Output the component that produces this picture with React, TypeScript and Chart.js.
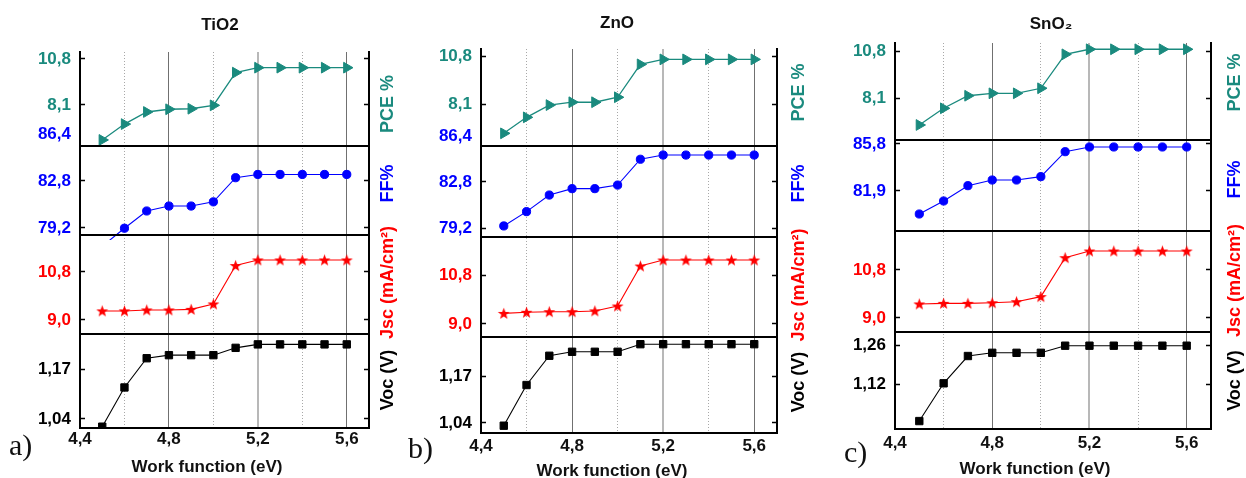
import React, { useEffect, useRef } from "react";
import { Chart, registerables } from "chart.js";

Chart.register(...registerables);

const FONT = '"Liberation Sans", Arial, "DejaVu Sans", sans-serif';
const W = 1246;
const H = 478;

// ---------- data ----------
const WORK_FUNCTION = [4.5, 4.6, 4.7, 4.8, 4.9, 5.0, 5.1, 5.2, 5.3, 5.4, 5.5, 5.6];
const X_TICKS = [4.4, 4.6, 4.8, 5.0, 5.2, 5.4, 5.6];
const X_LABELS = ["4,4", "", "4,8", "", "5,2", "", "5,6"];
const X_TITLE = "Work function (eV)";

// TiO2
const TIO2_PCE = [6.05, 6.98, 7.69, 7.85, 7.88, 8.08, 10.0, 10.29, 10.29, 10.29, 10.29, 10.29];
const TIO2_FF = [77.8, 79.18, 80.5, 80.88, 80.88, 81.2, 83.05, 83.3, 83.3, 83.3, 83.3, 83.3];
const TIO2_JSC = [9.34, 9.34, 9.375, 9.375, 9.4, 9.6, 11.04, 11.25, 11.25, 11.25, 11.25, 11.25];
const TIO2_VOC = [1.02, 1.122, 1.198, 1.206, 1.206, 1.206, 1.225, 1.234, 1.234, 1.234, 1.234, 1.234];

// ZnO
const ZNO_PCE = [6.45, 7.35, 8.04, 8.2, 8.2, 8.48, 10.33, 10.61, 10.61, 10.61, 10.61, 10.61];
const ZNO_FF = [79.36, 80.48, 81.78, 82.28, 82.28, 82.56, 84.58, 84.91, 84.91, 84.91, 84.91, 84.91];
const ZNO_JSC = [9.39, 9.43, 9.45, 9.45, 9.48, 9.66, 11.13, 11.35, 11.35, 11.35, 11.35, 11.35];
const ZNO_VOC = [1.0325, 1.145, 1.226, 1.237, 1.237, 1.237, 1.258, 1.258, 1.258, 1.258, 1.258, 1.258];

// SnO2
const SNO2_PCE = [6.55, 7.51, 8.23, 8.37, 8.37, 8.66, 10.61, 10.9, 10.9, 10.9, 10.9, 10.9];
const SNO2_FF = [79.99, 81.07, 82.34, 82.81, 82.81, 83.09, 85.16, 85.55, 85.55, 85.55, 85.55, 85.55];
const SNO2_JSC = [9.525, 9.55, 9.55, 9.57, 9.61, 9.8, 11.26, 11.51, 11.51, 11.51, 11.51, 11.51];
const SNO2_VOC = [0.987, 1.1225, 1.2205, 1.232, 1.232, 1.232, 1.2575, 1.2575, 1.2575, 1.2575, 1.2575, 1.2575];

// tick labels
const PCE_TICKS = [8.1, 10.8];
const FF_TICKS = [79.2, 82.8, 86.4];
const SNO2_FF_TICKS = [81.9, 85.8];
const JSC_TICKS = [9.0, 10.8];
const VOC_TICKS = [1.04, 1.17];
const SNO2_VOC_TICKS = [1.12, 1.26];

// ---------- styles ----------
const TEAL = "#1a8a7e";
const BLUE = "#0000ff";
const RED = "#ff0000";
const BLACK = "#000000";

const SERIES: any = {
  pce: { label: "PCE %", color: TEAL, style: "triangle", radius: 6.2, rotation: 90, decimals: 1, lw: 1.3 },
  ff: { label: "FF%", color: BLUE, style: "circle", radius: 4.1, rotation: 0, decimals: 1, lw: 1.1 },
  jsc: { label: "Jsc (mA/cm\u00B2)", color: RED, style: "star", radius: 5, rotation: 0, decimals: 1, lw: 1.1 },
  voc: { label: "Voc (V)", color: BLACK, style: "rect", radius: 5.2, rotation: 0, decimals: 2, lw: 1.1 },
};

const PANELS: any[] = [
  {
    title: "TiO2", tag: "a)", canvasLeft: 0, canvasWidth: 410, plotLeft: 80, plotRight: 369,
    top: 52, bottom: 428, titleX: 220, titleY: 25, xTitleX: 207, xTitleY: 467, xLabelPad: 1,
    sideX: 388, tagX: 9, tagY: 430,
    subs: [
      { key: "pce", data: TIO2_PCE, ticks: PCE_TICKS, range: [5.694, 11.21], h: 94, dy: 5 },
      { key: "ff", data: TIO2_FF, ticks: FF_TICKS, range: [78.66, 85.48], h: 89, dy: -7, clip: { left: 0, right: 0, top: 0, bottom: 5 } },
      { key: "jsc", data: TIO2_JSC, ticks: JSC_TICKS, range: [8.475, 12.187], h: 99, dy: -2 },
      { key: "voc", data: TIO2_VOC, ticks: VOC_TICKS, range: [1.0166, 1.261], h: 94, dy: -1 },
    ],
  },
  {
    title: "ZnO", tag: "b)", canvasLeft: 405, canvasWidth: 420, plotLeft: 76, plotRight: 372,
    top: 49, bottom: 433, titleX: 617, titleY: 23, xTitleX: 612, xTitleY: 471, xLabelPad: 3,
    sideX: 799, tagX: 408, tagY: 433,
    subs: [
      { key: "pce", data: ZNO_PCE, ticks: PCE_TICKS, range: [5.738, 11.194], h: 97, dy: -5 },
      { key: "ff", data: ZNO_FF, ticks: FF_TICKS, range: [78.496, 85.617], h: 91, dy: -8 },
      { key: "jsc", data: ZNO_JSC, ticks: JSC_TICKS, range: [8.522, 12.197], h: 100, dy: -2 },
      { key: "voc", data: ZNO_VOC, ticks: VOC_TICKS, range: [1.0123, 1.2779], h: 96, dy: -3 },
    ],
  },
  {
    title: "SnO\u2082", tag: "c)", canvasLeft: 828, canvasWidth: 418, plotLeft: 67, plotRight: 383,
    top: 43, bottom: 429, titleX: 1051, titleY: 24, xTitleX: 1035, xTitleY: 469, xLabelPad: 4,
    sideX: 1235, tagX: 844, tagY: 437,
    subs: [
      { key: "pce", data: SNO2_PCE, ticks: PCE_TICKS, range: [5.688, 11.26], h: 97, dy: -9 },
      { key: "ff", data: SNO2_FF, ticks: SNO2_FF_TICKS, range: [78.58, 86.13], h: 91, dy: -6 },
      { key: "jsc", data: SNO2_JSC, ticks: JSC_TICKS, range: [8.475, 12.262], h: 101, dy: -1 },
      { key: "voc", data: SNO2_VOC, ticks: SNO2_VOC_TICKS, range: [0.9585, 1.3067], h: 97, dy: 0 },
    ],
  },
];

function fmt(v: number, d: number) {
  return Number(v).toFixed(d).replace(".", ",");
}

function makeStar(color: string) {
  const c = document.createElement("canvas");
  c.width = 15;
  c.height = 15;
  const g = c.getContext("2d") as CanvasRenderingContext2D;
  g.fillStyle = color;
  g.beginPath();
  for (let k = 0; k < 10; k++) {
    const r = k % 2 === 0 ? 6.3 : 2.6;
    const a = -Math.PI / 2 + (k * Math.PI) / 5;
    const px = 7.5 + r * Math.cos(a);
    const py = 8 + r * Math.sin(a);
    if (k === 0) g.moveTo(px, py);
    else g.lineTo(px, py);
  }
  g.closePath();
  g.fill();
  return c;
}

function xGridColor(c: any) {
  const i = c.index;
  if (i === undefined) return "rgba(0,0,0,0)";
  if (i === 0) return "rgba(0,0,0,0)";
  if (i % 2 === 1) return "#a8a8a8";
  if (i === 4) return "#b8b8b8";
  return "#707070";
}
function xGridWidth(c: any) {
  return c.index === 4 ? 2 : 1;
}
function xGridDash(c: any) {
  return c.index !== undefined && c.index % 2 === 1 ? [1, 2] : [];
}

function decor(p: any) {
  return {
    id: "decor",
    afterDatasetsDraw(chart: any) {
      const ctx = chart.ctx;
      const a = chart.chartArea;
      ctx.save();
      ctx.strokeStyle = "#000";
      ctx.lineWidth = 2;
      for (let i = 0; i < p.subs.length - 1; i++) {
        const y = Math.round(chart.scales[p.subs[i].key].bottom);
        ctx.beginPath();
        ctx.moveTo(a.left, y);
        ctx.lineTo(a.right, y);
        ctx.stroke();
      }
      ctx.restore();
    },
    afterDraw(chart: any) {
      const ctx = chart.ctx;
      const ox = p.canvasLeft;
      ctx.save();
      ctx.textAlign = "center";
      ctx.textBaseline = "middle";
      ctx.fillStyle = "#111";
      ctx.font = `bold 17px ${FONT}`;
      ctx.fillText(p.title, p.titleX - ox, p.titleY);
      ctx.fillText(X_TITLE, p.xTitleX - ox, p.xTitleY);
      p.subs.forEach((s: any) => {
        const sc = chart.scales[s.key];
        const info = SERIES[s.key];
        ctx.save();
        ctx.translate(p.sideX - ox, (sc.top + sc.bottom) / 2 + s.dy);
        ctx.rotate(-Math.PI / 2);
        ctx.fillStyle = info.color;
        ctx.font = `bold 18px ${FONT}`;
        ctx.fillText(info.label, 0, 0);
        ctx.restore();
      });
      ctx.restore();
    },
  };
}

function buildConfig(p: any): any {
  const star = makeStar(RED);
  const scales: any = {
    x: {
      type: "linear",
      position: "bottom",
      min: 4.4,
      max: 5.7,
      afterBuildTicks: (s: any) => {
        s.ticks = X_TICKS.map((v) => ({ value: v }));
      },
      afterFit: (s: any) => {
        s.height = H - p.bottom;
      },
      ticks: {
        autoSkip: false,
        maxRotation: 0,
        minRotation: 0,
        padding: p.xLabelPad,
        color: "#111",
        font: { family: FONT, size: 17, weight: "bold" },
        callback: (_v: any, i: number) => X_LABELS[i],
      },
      grid: { drawTicks: false, color: xGridColor, lineWidth: xGridWidth },
      border: { display: true, color: "#000", width: 2, dash: xGridDash },
    },
  };

  p.subs.forEach((s: any, i: number) => {
    const info = SERIES[s.key];
    const inRange = (v: number) => v >= s.range[0] - 1e-9 && v <= s.range[1] + 1e-9;
    const common = {
      type: "linear",
      min: s.range[0],
      max: s.range[1],
      stackWeight: s.h,
      afterBuildTicks: (sc: any) => {
        sc.ticks = s.ticks.map((v: number) => ({ value: v }));
      },
      grid: {
        drawOnChartArea: false,
        drawTicks: true,
        tickLength: -5,
        tickWidth: 1.5,
        tickColor: (c: any) => (c.tick && inRange(c.tick.value) ? "#000" : "rgba(0,0,0,0)"),
      },
      border: { display: true, color: "#000", width: 2 },
    };
    scales[s.key] = {
      ...common,
      position: "left",
      stack: "leftstack",
      weight: 10 - i,
      afterFit: (sc: any) => {
        sc.width = p.plotLeft;
      },
      ticks: {
        autoSkip: false,
        padding: 14,
        color: info.color,
        font: { family: FONT, size: 17, weight: "bold" },
        callback: (v: any) => fmt(v, info.decimals),
      },
    };
    scales[s.key + "R"] = {
      ...common,
      position: "right",
      stack: "rightstack",
      weight: i + 1,
      afterFit: (sc: any) => {
        sc.width = p.canvasWidth - p.plotRight;
      },
      ticks: { display: false },
    };
  });

  const datasets = p.subs.map((s: any) => {
    const info = SERIES[s.key];
    return {
      label: info.label,
      xAxisID: "x",
      yAxisID: s.key,
      data: WORK_FUNCTION.map((x, i) => ({ x, y: s.data[i] })),
      borderColor: info.color,
      backgroundColor: info.color,
      borderWidth: info.lw,
      pointStyle: info.style === "star" ? star : info.style,
      pointRadius: info.radius,
      pointRotation: info.rotation,
      pointBackgroundColor: info.color,
      pointBorderColor: info.color,
      pointBorderWidth: 1,
      tension: 0,
      fill: false,
      clip: s.clip !== undefined ? s.clip : 0,
    };
  });

  return {
    type: "line",
    data: { datasets },
    options: {
      responsive: false,
      animation: false,
      devicePixelRatio: 1,
      events: [],
      layout: { padding: { top: p.top, left: 0, right: 0, bottom: 0 } },
      plugins: { legend: { display: false }, tooltip: { enabled: false }, title: { display: false } },
      scales,
    },
    plugins: [decor(p)],
  };
}

function Panel({ p }: { p: any }) {
  const ref = useRef<HTMLCanvasElement>(null);
  useEffect(() => {
    const chart = new Chart(ref.current as HTMLCanvasElement, buildConfig(p));
    return () => chart.destroy();
  }, [p]);
  return (
    <canvas
      ref={ref}
      width={p.canvasWidth}
      height={H}
      style={{ position: "absolute", left: p.canvasLeft, top: 0, width: p.canvasWidth, height: H }}
    />
  );
}

export default function App() {
  Chart.defaults.font.family = FONT;
  return (
    <div style={{ position: "absolute", left: 0, top: 0, width: W, height: H, background: "#fff", overflow: "hidden" }}>
      {PANELS.map((p) => (
        <Panel key={p.title} p={p} />
      ))}
      {PANELS.map((p) => (
        <div
          key={p.tag}
          style={{
            position: "absolute",
            left: p.tagX,
            top: p.tagY,
            fontFamily: '"Liberation Serif", "DejaVu Serif", serif',
            fontSize: 30,
            lineHeight: 1,
            color: "#111",
          }}
        >
          {p.tag}
        </div>
      ))}
    </div>
  );
}
